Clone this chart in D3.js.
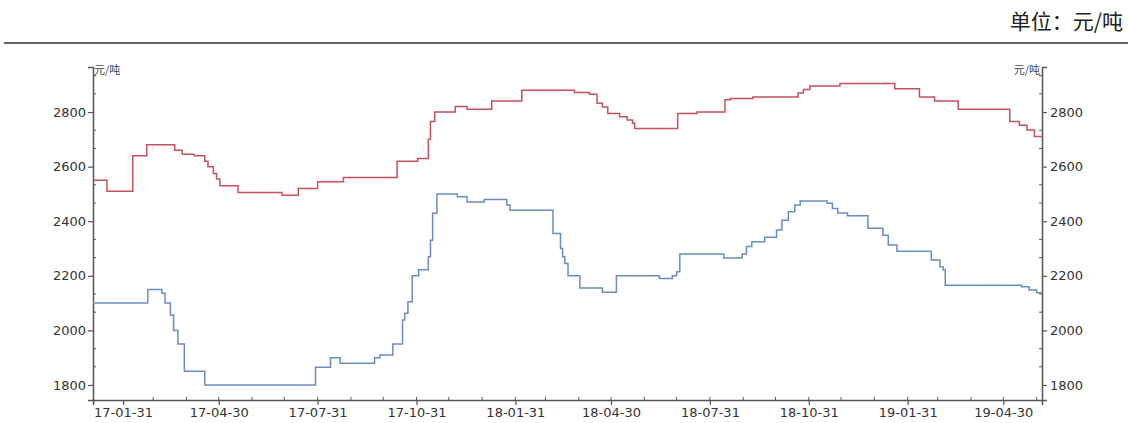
<!DOCTYPE html>
<html><head><meta charset="utf-8">
<script src="https://cdn.jsdelivr.net/npm/d3@7"></script>
<style>
html,body{margin:0;padding:0;background:#fff;}
svg{display:block;}
</style></head>
<body>
<svg id="chart" width="1128" height="423"></svg>
<script>
// ---- data ----
const unitTitle = "单位：元/吨";
const axisUnit = "元/吨";
const redDates = ["2017-01-03","2017-01-16","2017-02-09","2017-02-22","2017-03-20","2017-03-27","2017-04-07","2017-04-17","2017-04-20","2017-04-25","2017-04-28","2017-05-01","2017-05-18","2017-06-28","2017-07-13","2017-07-31","2017-08-24","2017-10-13","2017-11-01","2017-11-11","2017-11-13","2017-11-17","2017-12-06","2017-12-17","2018-01-09","2018-02-06","2018-03-27","2018-04-10","2018-04-17","2018-04-22","2018-04-27","2018-05-08","2018-05-15","2018-05-20","2018-05-22","2018-07-01","2018-07-19","2018-08-14","2018-08-19","2018-09-09","2018-10-21","2018-10-26","2018-11-01","2018-11-29","2019-01-19","2019-02-11","2019-02-25","2019-03-19","2019-05-06","2019-05-15","2019-05-22","2019-05-29","2019-06-05"];
const redValues = [2550,2510,2640,2680,2660,2645,2640,2620,2600,2575,2555,2530,2505,2495,2520,2545,2560,2620,2630,2700,2765,2800,2820,2810,2840,2880,2872,2865,2832,2818,2795,2783,2771,2759,2740,2795,2800,2845,2850,2855,2870,2883,2895,2905,2885,2855,2840,2810,2765,2752,2734,2710,2710];
const blueDates = ["2017-01-03","2017-02-23","2017-03-08","2017-03-11","2017-03-16","2017-03-19","2017-03-23","2017-03-29","2017-04-17","2017-07-29","2017-08-12","2017-08-21","2017-09-22","2017-09-27","2017-10-09","2017-10-18","2017-10-20","2017-10-23","2017-10-27","2017-11-02","2017-11-11","2017-11-13","2017-11-15","2017-11-19","2017-12-08","2017-12-17","2018-01-02","2018-01-23","2018-01-26","2018-03-07","2018-03-14","2018-03-16","2018-03-18","2018-03-21","2018-04-01","2018-04-22","2018-05-05","2018-06-14","2018-06-26","2018-06-30","2018-07-03","2018-08-13","2018-08-30","2018-09-03","2018-09-08","2018-09-20","2018-10-01","2018-10-06","2018-10-12","2018-10-18","2018-10-23","2018-11-17","2018-11-22","2018-11-27","2018-12-06","2018-12-25","2019-01-08","2019-01-13","2019-01-21","2019-02-22","2019-03-02","2019-03-05","2019-03-07","2019-05-17","2019-05-24","2019-05-31","2019-06-05"];
const blueValues = [2100,2150,2136,2100,2056,2000,1950,1850,1800,1865,1900,1880,1900,1910,1950,2038,2063,2105,2200,2222,2270,2330,2429,2500,2490,2470,2480,2459,2440,2355,2300,2270,2245,2200,2155,2140,2200,2190,2200,2215,2280,2265,2280,2307,2325,2341,2368,2404,2435,2459,2474,2466,2447,2430,2420,2374,2349,2313,2290,2258,2233,2221,2165,2160,2148,2138,2138];
const xTickLabels = ["2017-01-31","2017-04-30","2017-07-31","2017-10-31","2018-01-31","2018-04-30","2018-07-31","2018-10-31","2019-01-31","2019-04-30"];
const yTickValues = [1800,2000,2200,2400,2600,2800];
const xDomain = ["2017-01-03","2019-06-05"];
const yDomain = [1745,2965];

// ---- drawing ----
const parse = d3.utcParse("%Y-%m-%d");
const fmt = d3.utcFormat("%y-%m-%d");
const svg = d3.select("#chart");
const L = 93, R = 1042, T = 67, B = 400;
const x = d3.scaleUtc().domain(xDomain.map(parse)).range([L, R]);
const y = d3.scaleLinear().domain(yDomain).range([B, T]);

const axisColor = "#555";
const textColor = "#333";
const tickFont = "DejaVu Sans, Verdana, sans-serif";

// header
svg.append("text").attr("x", 1123).attr("y", 29).attr("text-anchor", "end")
  .attr("font-family", "Noto Sans CJK SC, sans-serif").attr("font-size", 21)
  .attr("fill", "#222").text(unitTitle);
svg.append("line").attr("x1", 4).attr("x2", 1128).attr("y1", 43).attr("y2", 43)
  .attr("stroke", "#333").attr("stroke-width", 1.6);

// minor ticks
const minorY = [];
for (let i = 0; i < yTickValues.length; i++) {
  for (const k of [1, 2]) {
    const v = yTickValues[i] + k * 200 / 3;
    if (v < yDomain[1]) minorY.push(v);
  }
}
const xd = x.domain();
const monthEnds = d3.utcMonth.range(parse("2017-01-02"), parse("2019-06-02"))
  .map(d => d3.utcDay.offset(d3.utcMonth.offset(d, 1), -1))
  .filter(d => d >= xd[0] && d <= xd[1]);

// left axis
const gL = svg.append("g").attr("transform", `translate(${L},0)`)
  .call(d3.axisLeft(y).tickValues(yTickValues).tickSize(5).tickPadding(2).tickFormat(d3.format("d")));
// right axis
const gR = svg.append("g").attr("transform", `translate(${R},0)`)
  .call(d3.axisRight(y).tickValues(yTickValues).tickSize(5).tickPadding(3).tickFormat(d3.format("d")));
// bottom axis
const gB = svg.append("g").attr("transform", `translate(0,${B})`)
  .call(d3.axisBottom(x).tickValues(xTickLabels.map(parse)).tickSize(5).tickPadding(3).tickFormat(fmt));

for (const g of [gL, gR, gB]) {
  g.select(".domain").attr("stroke", axisColor).attr("stroke-width", 1.5);
  g.selectAll(".tick line").attr("stroke", axisColor).attr("stroke-width", 1.2);
  g.selectAll(".tick text").attr("fill", textColor).attr("font-family", tickFont).attr("font-size", 13);
}

// minor ticks drawn inside
svg.append("g").selectAll("line").data(minorY).join("line")
  .attr("x1", L).attr("x2", L + 3).attr("y1", d => y(d)).attr("y2", d => y(d))
  .attr("stroke", axisColor).attr("stroke-width", 1);
svg.append("g").selectAll("line").data(minorY).join("line")
  .attr("x1", R - 3).attr("x2", R).attr("y1", d => y(d)).attr("y2", d => y(d))
  .attr("stroke", axisColor).attr("stroke-width", 1);
svg.append("g").selectAll("line").data(monthEnds).join("line")
  .attr("x1", d => x(d)).attr("x2", d => x(d)).attr("y1", B).attr("y2", B - 3)
  .attr("stroke", axisColor).attr("stroke-width", 1);

// unit labels
svg.append("text").attr("x", L + 1).attr("y", 74).attr("font-family", "Noto Sans CJK SC, sans-serif")
  .attr("font-size", 11).attr("fill", "#444").text(axisUnit);
svg.append("text").attr("x", R - 2).attr("y", 74).attr("text-anchor", "end").attr("font-family", "Noto Sans CJK SC, sans-serif")
  .attr("font-size", 11).attr("fill", "#444").text(axisUnit);

// lines
const line = d3.line().curve(d3.curveStepAfter).x(d => x(d[0])).y(d => y(d[1]));
const redData = redDates.map((d, i) => [parse(d), redValues[i]]);
const blueData = blueDates.map((d, i) => [parse(d), blueValues[i]]);
svg.append("path").datum(redData).attr("d", line).attr("fill", "none")
  .attr("stroke", "#c8505e").attr("stroke-width", 1.5);
svg.append("path").datum(blueData).attr("d", line).attr("fill", "none")
  .attr("stroke", "#6a8cc2").attr("stroke-width", 1.5);
</script>
</body></html>
